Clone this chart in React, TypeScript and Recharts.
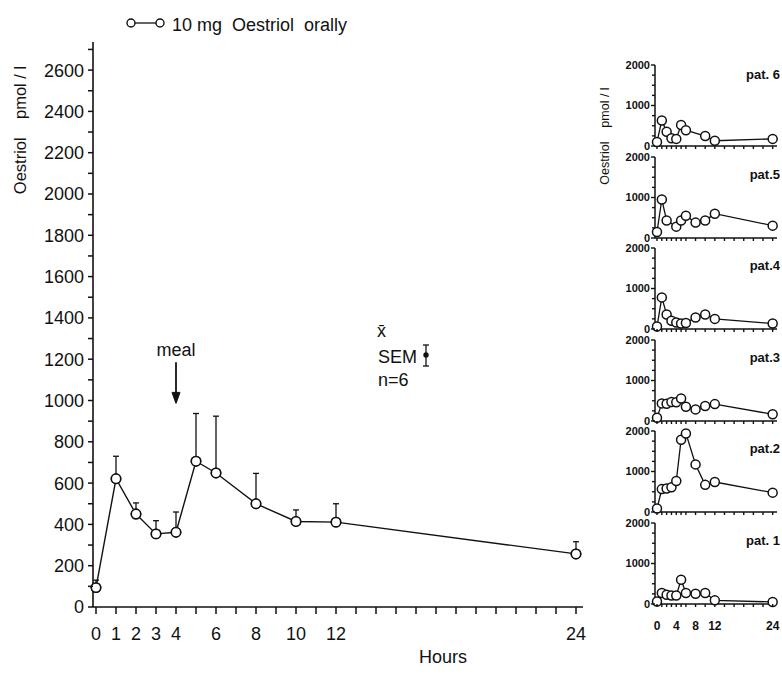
import React from "react";
import {
  LineChart,
  Line,
  XAxis,
  YAxis,
  ErrorBar,
  ReferenceLine,
  ReferenceDot,
} from "recharts";

// sampling times (hours after dose)
const HOURS = [0, 1, 2, 3, 4, 5, 6, 8, 10, 12, 24];

// mean of n=6 and upper SEM whisker (pmol/l)
const MEAN = [94, 621, 450, 354, 362, 706, 649, 500, 414, 411, 257];
const SEM_UP = [36, 109, 54, 64, 98, 231, 275, 147, 56, 89, 59];

// single patients, null = no point drawn
const PAT6 = [100, 630, 350, 190, 175, 520, 390, null, 245, 130, 175];
const PAT5 = [150, 950, 430, null, 280, 430, 550, 380, 430, 600, 305];
const PAT4 = [60, 780, 360, 205, 160, 135, 150, 285, 360, 250, 135];
const PAT3 = [80, 435, 425, 470, 463, 555, 350, 287, 370, 417, 167];
const PAT2 = [87, 565, 580, 610, 765, 1783, 1940, 1175, 670, 740, 478];
const PAT1 = [60, 270, 230, 210, 210, 600, 270, 255, 270, 90, 50];

const PANEL_LABELS = ["pat. 6", "pat.5", "pat.4", "pat.3", "pat.2", "pat. 1"];
const PANEL_SERIES = [PAT6, PAT5, PAT4, PAT3, PAT2, PAT1];

const MAIN_Y_TICKS = [
  0, 100, 200, 300, 400, 500, 600, 700, 800, 900, 1000, 1100, 1200, 1300, 1400,
  1500, 1600, 1700, 1800, 1900, 2000, 2100, 2200, 2300, 2400, 2500, 2600, 2700,
];
const MAIN_X_TICKS = [
  0, 1, 2, 3, 4, 5, 6, 7, 8, 9, 10, 11, 12, 13, 14, 15, 16, 17, 18, 19, 20, 21,
  22, 23, 24,
];
const MAIN_X_LABELS = [0, 1, 2, 3, 4, 6, 8, 10, 12, 24];

const PANEL_Y_TICKS = [0, 250, 500, 750, 1000, 1250, 1500, 1750, 2000];
const PANEL_X_TICKS = [0, 1, 2, 3, 4, 5, 6, 8, 10, 12, 14, 16, 18, 20, 22, 24];
const PANEL_X_LABELS = [0, 4, 8, 12, 24];

const FONT = "'Liberation Sans', Arial, sans-serif";
const INK = "#111";

const mainData = HOURS.map((h, i) => ({
  h,
  mean: MEAN[i],
  sem: [0, SEM_UP[i]],
}));

function MainYTick(props: any) {
  const { x, y, payload } = props;
  const v = payload.value;
  const show = v % 200 === 0 && v <= 2600;
  return (
    <g>
      <line x1={x} x2={x - 5} y1={y} y2={y} stroke={INK} strokeWidth={1.5} />
      {show && (
        <text x={x - 9} y={y} dy="0.36em" textAnchor="end" fontSize={18} fill={INK} fontFamily={FONT}>
          {v}
        </text>
      )}
    </g>
  );
}

function MainXTick(props: any) {
  const { x, y, payload } = props;
  const v = payload.value;
  return (
    <g>
      <line x1={x} x2={x} y1={y} y2={y + 7} stroke={INK} strokeWidth={1.5} />
      {MAIN_X_LABELS.includes(v) && (
        <text x={x} y={y + 33} textAnchor="middle" fontSize={18} fill={INK} fontFamily={FONT}>
          {v}
        </text>
      )}
    </g>
  );
}

function PanelYTick(props: any) {
  const { x, y, payload } = props;
  const v = payload.value;
  const major = v % 1000 === 0;
  return (
    <g>
      <line x1={x} x2={x - (major ? 4 : 3)} y1={y} y2={y} stroke={INK} strokeWidth={1.4} />
      {major && (
        <text x={x - 5} y={y} dy="0.36em" textAnchor="end" fontSize={11} fontWeight="bold" fill={INK} fontFamily={FONT}>
          {v}
        </text>
      )}
    </g>
  );
}

function makePanelXTick(showLabels: boolean) {
  return function PanelXTick(props: any) {
    const { x, y, payload } = props;
    const v = payload.value;
    return (
      <g>
        <line x1={x} x2={x} y1={y} y2={y + 3} stroke={INK} strokeWidth={1.4} />
        {showLabels && PANEL_X_LABELS.includes(v) && (
          <text x={x} y={y + 26} textAnchor="middle" fontSize={12} fontWeight="bold" fill={INK} fontFamily={FONT}>
            {v}
          </text>
        )}
      </g>
    );
  };
}

function ArrowHead(props: any) {
  const { cx, cy } = props;
  return <path d={`M${cx - 4},${cy - 11} L${cx},${cy} L${cx + 4},${cy - 11} Z`} fill={INK} stroke={INK} strokeWidth={1} />;
}

function MainChart() {
  return (
    <LineChart
      width={600}
      height={675}
      data={mainData}
      margin={{ top: 42, right: 17, bottom: 0, left: 0 }}
    >
      <XAxis
        dataKey="h"
        type="number"
        domain={[0, 24.35]}
        ticks={MAIN_X_TICKS}
        interval={0}
        padding={{ left: 3 }}
        height={68}
        tickSize={0}
        tickMargin={0}
        tick={<MainXTick />}
        stroke={INK}
        strokeWidth={1.6}
      />
      <YAxis
        type="number"
        domain={[0, 2736]}
        ticks={MAIN_Y_TICKS}
        interval={0}
        width={93}
        tickSize={0}
        tickMargin={0}
        tick={<MainYTick />}
        stroke={INK}
        strokeWidth={1.6}
      />
      <ReferenceLine
        segment={[
          { x: 4, y: 1185 },
          { x: 4, y: 995 },
        ]}
        stroke={INK}
        strokeWidth={1.8}
        label={{ value: "meal", position: "top", offset: 6, fontSize: 18, fill: INK, fontFamily: FONT }}
      />
      <ReferenceDot x={4} y={986} r={0} shape={<ArrowHead />} />
      <Line
        dataKey="mean"
        stroke={INK}
        strokeWidth={1.4}
        dot={{ r: 4.7, fill: "#fff", stroke: INK, strokeWidth: 1.5 }}
        activeDot={false}
        isAnimationActive={false}
      >
        <ErrorBar dataKey="sem" direction="y" width={3} stroke={INK} strokeWidth={1.3} />
      </Line>
      <Line
        dataKey="mean"
        stroke="none"
        dot={{ r: 4.7, fill: "#fff", stroke: INK, strokeWidth: 1.5 }}
        activeDot={false}
        isAnimationActive={false}
      />
    </LineChart>
  );
}

const PANEL_FIRST_ZERO = 146;
const PANEL_PITCH = 91.5;
const PANEL_PLOT_H = 81;

function Panel({ series, label, index }: { series: (number | null)[]; label: string; index: number }) {
  const last = index === PANEL_SERIES.length - 1;
  const zeroY = PANEL_FIRST_ZERO + index * PANEL_PITCH;
  const marginTop = 6;
  const xh = last ? 32 : 8;
  const top = zeroY - PANEL_PLOT_H - marginTop;
  const data = HOURS.map((h, i) => ({ h, v: series[i] }));
  return (
    <div style={{ position: "absolute", left: 590, top }}>
      <LineChart
        width={192}
        height={marginTop + PANEL_PLOT_H + xh}
        data={data}
        margin={{ top: marginTop, right: 5, bottom: 0, left: 0 }}
      >
        <XAxis
          dataKey="h"
          type="number"
          domain={[0, 24.9]}
          ticks={PANEL_X_TICKS}
          interval={0}
          padding={{ left: 2 }}
          height={xh}
          tickSize={0}
          tickMargin={0}
          tick={React.createElement(makePanelXTick(last))}
          stroke={INK}
          strokeWidth={1.5}
        />
        <YAxis
          type="number"
          domain={[0, 2000]}
          ticks={PANEL_Y_TICKS}
          interval={0}
          width={65}
          tickSize={0}
          tickMargin={0}
          tick={<PanelYTick />}
          stroke={INK}
          strokeWidth={1.5}
        />
        <Line
          dataKey="v"
          connectNulls
          stroke={INK}
          strokeWidth={1.3}
          dot={{ r: 4.5, fill: "#fff", stroke: INK, strokeWidth: 1.5 }}
          activeDot={false}
          isAnimationActive={false}
        />
      </LineChart>
      <div
        style={{
          position: "absolute",
          right: 2,
          top: marginTop + (index === 0 ? 2 : 10),
          fontFamily: FONT,
          fontSize: 13,
          fontWeight: "bold",
          color: INK,
        }}
      >
        {label}
      </div>
    </div>
  );
}

function Overlay() {
  const txt = { fontFamily: FONT, fill: INK } as const;
  return (
    <svg width={782} height={675} style={{ position: "absolute", left: 0, top: 0, pointerEvents: "none" }}>
      {/* series key */}
      <line x1={131} x2={160} y1={23} y2={23} stroke={INK} strokeWidth={1.3} />
      <circle cx={131} cy={23} r={4} fill="#fff" stroke={INK} strokeWidth={1.4} />
      <circle cx={160} cy={23} r={4} fill="#fff" stroke={INK} strokeWidth={1.4} />
      <text x={172} y={31} fontSize={18} style={{ whiteSpace: "pre" }} {...txt}>
        10 mg  Oestriol  orally
      </text>

      <text
        x={20}
        y={130}
        fontSize={16.5}
        textAnchor="middle"
        dominantBaseline="central"
        transform="rotate(-90 20 130)"
        style={{ whiteSpace: "pre" }}
        {...txt}
      >
        Oestriol    pmol / l
      </text>

      <text x={443} y={663} fontSize={18} textAnchor="middle" {...txt}>
        Hours
      </text>

      {/* mean / SEM key */}
      <text x={377} y={337} fontSize={18} {...txt}>
        x̄
      </text>
      <text x={378} y={363} fontSize={18} {...txt}>
        SEM
      </text>
      <text x={378} y={386} fontSize={18} {...txt}>
        n=6
      </text>
      <line x1={426} x2={426} y1={345} y2={366} stroke={INK} strokeWidth={1.3} />
      <line x1={423} x2={429} y1={345} y2={345} stroke={INK} strokeWidth={1.3} />
      <line x1={423} x2={429} y1={366} y2={366} stroke={INK} strokeWidth={1.3} />
      <circle cx={426} cy={355} r={2.7} fill={INK} />

      <text
        x={605}
        y={136}
        fontSize={12.5}
        textAnchor="middle"
        dominantBaseline="central"
        transform="rotate(-90 605 136)"
        style={{ whiteSpace: "pre" }}
        {...txt}
      >
        Oestriol    pmol / l
      </text>
    </svg>
  );
}

export default function App() {
  return (
    <div style={{ position: "absolute", left: 0, top: 0, width: 782, height: 675, background: "#fff" }}>
      <div style={{ position: "absolute", left: 0, top: 0 }}>
        <MainChart />
      </div>
      {PANEL_SERIES.map((s, i) => (
        <Panel key={PANEL_LABELS[i]} series={s} label={PANEL_LABELS[i]} index={i} />
      ))}
      <Overlay />
    </div>
  );
}
